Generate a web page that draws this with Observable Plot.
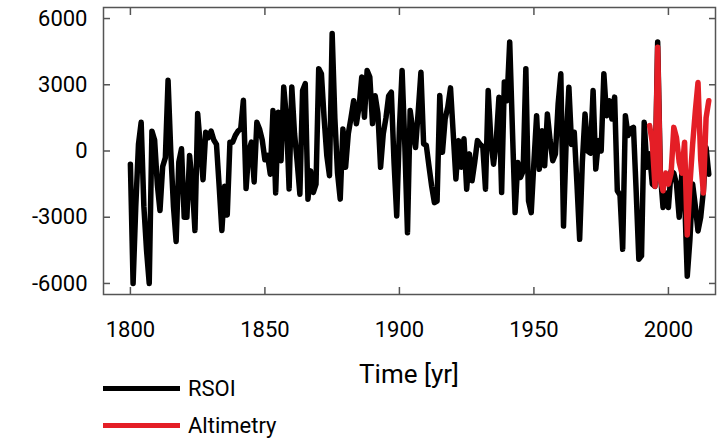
<!DOCTYPE html>
<html>
<head>
<meta charset="utf-8">
<script src="https://cdn.jsdelivr.net/npm/d3@7"></script>
<script src="https://cdn.jsdelivr.net/npm/@observablehq/plot@0.6"></script>
<style>
  html, body { margin: 0; padding: 0; background: #fff; }
  #wrap { position: relative; width: 720px; height: 441px; font-family: "Liberation Sans Narrow", "Roboto", sans-serif; }
  .leg { position: absolute; left: 103px; display: flex; align-items: center; font-size: 22px; color: #000; }
  .leg .sw { width: 77px; height: 5px; margin-right: 8px; }
</style>
</head>
<body>
<div id="wrap"></div>
<script>
const rsoiStartYear = 1800;
const rsoiValues = [
  -600, -6000, -2500, 300, 1300, -2500, -4500, -6000, 900, 500,
  -1500, -2700, -700, -300, 3200, 0, -2500, -4100, -500, 100,
  -3000, -3000, -200, -1500, -3600, 1700, 200, -1300, 850, 600,
  900, 500, 300, -1600, -3600, -1600, -2900, 400, 400, 700,
  900, 1000, 2300, -1700, 0, 400, -1400, 1300, 1000, 500,
  -400, -200, -1050, 1830, -1900, 1750, -440, 2900, 1500, -1720,
  2900, 800, -500, -1960, 2740, 3050, -2180, -900, -1880, -1500,
  3730, 3500, 1500, -200, -1120, 5320, 1500, -1000, -2180, 1000,
  -740, 780, 1500, 2280, 1230, 2000, 3350, 1530, 3650, 3350,
  1240, 2500, 1700, -740, 780, 1500, 2500, 2660, -500, -2940,
  1000, 3650, 300, -3700, 1830, 900, 160, 1800, 3570, 320,
  250, -700, -1600, -2340, -2270, 2510, -60, 1450, 2000, 2860,
  800, -1270, 470, -740, 550, -1730, -130, -1350, -500, 470,
  300, 200, -1730, 2740, 500, -600, 470, 2440, -1880, 3120,
  2280, 4940, 1000, -2790, -520, -1200, -900, 3730, -2260, -2790,
  -500, 1600, -830, 920, -670, 1680, 500, -440, -130, 2130,
  3500, -3400, 470, 2890, 300, 850, -1500, -4000, -500, 1680,
  0, -100, 2740, -820, 470, 0, 3500, 1600, 2280, 1450,
  2440, -1800, -2000, -4450, 1600, 700, 1000, 1070, -1800, -4900,
  -4750, 1300, -740, -130, -1500, -1600, 4940, -1000, -2560, -1900,
  -2560, -900, -1000, -1500, -3000, -1000, -2000, -5670, -4000, -1500,
  -2500, -3620, -3000, -1800, 160, -1050
];
const altStartYear = 1993;
const altValues = [
  1150, 400, -1600, 4700, -1300, -1800, -1000, -1500, -1000, 1070,
  600, -500, -1000, 400, -3800, -1500, 300, 1800, 3100, -400,
  -1900, 1500, 2280
];
const xTicks = [1800, 1850, 1900, 1950, 2000];
const yTicks = [-6000, -3000, 0, 3000, 6000];
const seriesNames = ["RSOI", "Altimetry"];
const seriesColors = ["#000000", "#e41e26"];

const rsoi = rsoiValues.map((v, i) => ({year: rsoiStartYear + i, value: v}));
const alt = altValues.map((v, i) => ({year: altStartYear + i, value: v}));

const font = '"Liberation Sans Narrow", "Roboto", sans-serif';
const chart = Plot.plot({
  width: 720,
  height: 441,
  marginLeft: 103,
  marginRight: 5,
  marginTop: 7,
  marginBottom: 147,
  style: {fontFamily: font, fontSize: "22px", color: "#000", background: "#fff"},
  x: {domain: [1790, 2017.5], label: null},
  y: {domain: [-6500, 6500], label: null},
  marks: [
    Plot.line(rsoi, {x: "year", y: "value", stroke: seriesColors[0], strokeWidth: 5.5, strokeLinejoin: "round"}),
    Plot.line(alt, {x: "year", y: "value", stroke: seriesColors[1], strokeWidth: 5.5, strokeLinejoin: "round"}),
    Plot.frame({stroke: "#555", strokeWidth: 1.5}),
    Plot.axisY(yTicks, {anchor: "left", tickSize: 0, tickPadding: 16, fontSize: 22, tickFormat: d => String(d)}),
    Plot.axisY(yTicks, {anchor: "left", tickSize: 7, dx: 7, text: null, stroke: "#555", strokeWidth: 1.5}),
    Plot.axisY(yTicks, {anchor: "right", tickSize: 7, dx: -7, text: null, stroke: "#555", strokeWidth: 1.5}),
    Plot.axisX(xTicks, {anchor: "bottom", tickSize: 0, tickPadding: 27, fontSize: 22, tickFormat: d => String(d)}),
    Plot.axisX(xTicks, {anchor: "bottom", tickSize: 7, dy: -7, text: null, stroke: "#555", strokeWidth: 1.5}),
    Plot.axisX(xTicks, {anchor: "top", tickSize: 7, dy: 7, text: null, stroke: "#555", strokeWidth: 1.5})
  ]
});
const wrap = document.getElementById("wrap");
wrap.appendChild(chart);

const xl = document.createElement("div");
xl.textContent = "Time [yr]";
xl.style.cssText = "position:absolute;left:0;width:818px;text-align:center;top:359px;font-size:26px;";
wrap.appendChild(xl);

seriesNames.forEach((name, i) => {
  const d = document.createElement("div");
  d.className = "leg";
  d.style.top = (376 + i * 37) + "px";
  d.innerHTML = `<span class="sw" style="background:${seriesColors[i]}"></span><span>${name}</span>`;
  wrap.appendChild(d);
});
</script>
</body>
</html>
